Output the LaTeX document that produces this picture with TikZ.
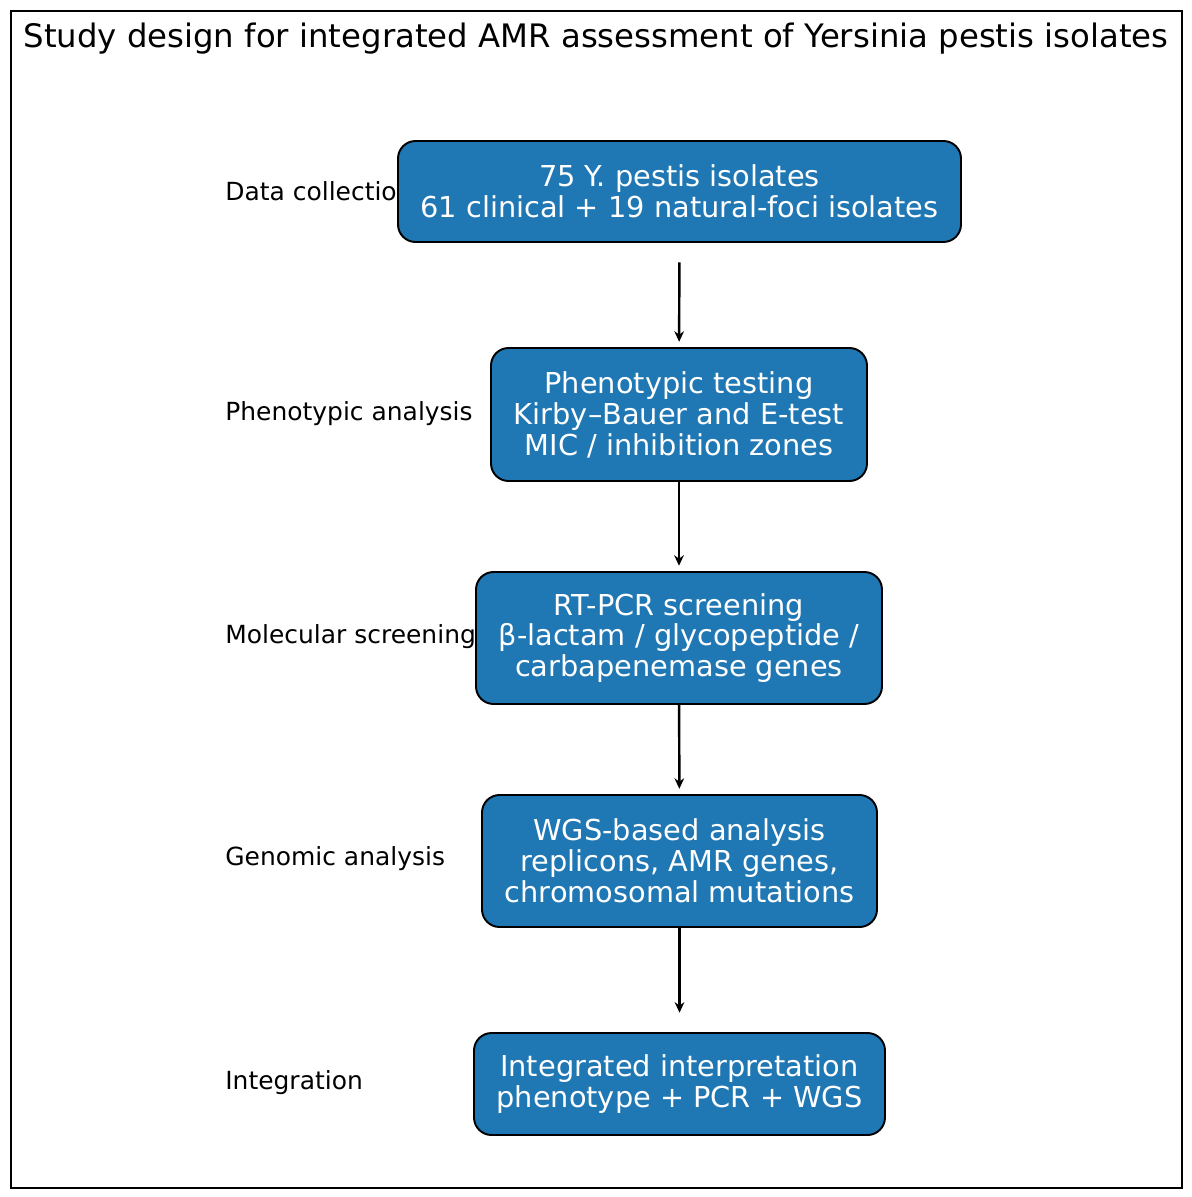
\documentclass[tikz,border=0pt]{standalone}
\usepackage{fontspec}
\setmainfont{DejaVu Sans}
\usetikzlibrary{arrows.meta}
\definecolor{boxblue}{HTML}{1F77B4}
\begin{document}
\begin{tikzpicture}[x=0.02cm, y=-0.02cm,
	stage/.style={draw=black, line width=1.1pt, fill=boxblue, rounded corners=10pt, text=white, align=center, font=\fontsize{16.4}{17.6}\selectfont, inner sep=0pt},
	lab/.style={anchor=west, font=\fontsize{14.2}{16}\selectfont, inner sep=0pt},
	arr/.style={-{Stealth[length=6pt, width=5.5pt]}, line width=1.4pt}]
		\draw[line width=1.1pt] (11,11) rectangle (1182,1188);
		\useasboundingbox (0,0) rectangle (1191,1197);
		\node[font=\fontsize{18.4}{21}\selectfont] at (596,39) (title) {Study design for integrated AMR assessment of Yersinia pestis isolates};
		% row labels first, so the boxes lie over them
		\node[lab] at (225,191) (L1) {Data collection};
		\node[lab] at (225,414) (L2) {Phenotypic analysis};
		\node[lab] at (225,637) (L3) {Molecular screening};
		\node[lab] at (225,859) (L4) {Genomic analysis};
		\node[lab] at (225,1083) (L5) {Integration};
		\node[stage, minimum width=563*0.02cm, minimum height=101*0.02cm] at (679.5,191.5) (S1) {75 Y. pestis isolates\\61 clinical + 19 natural-foci isolates};
		\node[stage, minimum width=376*0.02cm, minimum height=133*0.02cm] at (679,414.5) (S2) {Phenotypic testing\\Kirby–Bauer and E-test\\MIC / inhibition zones};
		\node[stage, minimum width=406*0.02cm, minimum height=132*0.02cm] at (679,638) (S3) {RT-PCR screening\\β-lactam / glycopeptide /\\carbapenemase genes};
		\node[stage, minimum width=395*0.02cm, minimum height=132*0.02cm] at (679.5,861) (S4) {WGS-based analysis\\replicons, AMR genes,\\chromosomal mutations};
		\node[stage, minimum width=411*0.02cm, minimum height=102*0.02cm] at (679.5,1084) (S5) {Integrated interpretation\\phenotype + PCR + WGS};
		\draw[arr, shorten <=11pt, shorten >=3pt] (S1) -- (S2);
		\draw[arr, shorten >=3pt] (S2) -- (S3);
		\draw[arr, shorten >=3pt] (S3) -- (S4);
		\draw[arr, shorten >=11pt] (S4) -- (S5);
\end{tikzpicture}
\end{document}
